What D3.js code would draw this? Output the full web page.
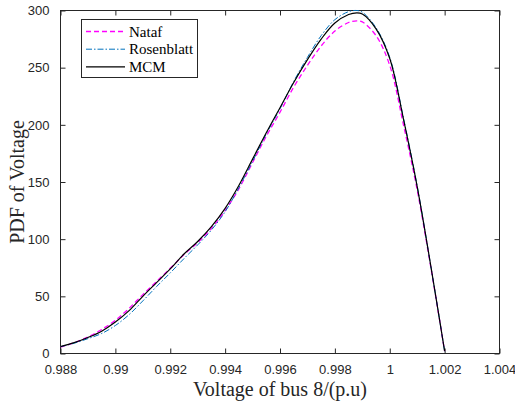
<!DOCTYPE html>
<html>
<head>
<meta charset="utf-8">
<script src="https://cdn.jsdelivr.net/npm/d3@7"></script>
<style>
  html, body { margin: 0; padding: 0; background: #fff; }
  svg { display: block; }
</style>
</head>
<body>
<svg id="chart" width="515" height="405"></svg>
<script>
// ---- data ----
const voltage = [0.9880, 0.9885, 0.9890, 0.9895, 0.9900, 0.9905, 0.9910, 0.9915, 0.9920, 0.9925,
                 0.9930, 0.9935, 0.9940, 0.9945, 0.9950, 0.9955, 0.9960, 0.9965, 0.9970, 0.9975,
                 0.9980, 0.9985, 0.9988, 0.9990, 0.9995, 1.0000, 1.0005, 1.0010, 1.0015, 1.0020];
const natafPdf = [5.5, 9.5, 14.5, 21, 29, 39.5, 51.5, 63, 74.5, 86.5,
                  97, 109.5, 125, 144, 167, 190, 211, 233, 252, 269,
                  282, 289.5, 291, 290, 278, 252, 200, 143, 75, 2];
const rosenblattPdf = [6, 9, 13, 17.5, 24.5, 34, 46, 58.5, 70.5, 83,
                       95, 108, 124, 145, 168, 192, 214, 238, 259, 278,
                       292, 299, 300, 298.5, 285, 259, 206, 146.5, 76, 2];
const mcmPdf = [6, 9.5, 14, 19.5, 27.5, 37.5, 50, 62, 74, 87,
                98, 111, 127, 147, 170, 193, 215, 237, 257, 275,
                289, 296.5, 298, 297, 284, 258, 205, 146, 76, 2];
const xTicks = [0.988, 0.990, 0.992, 0.994, 0.996, 0.998, 1.000, 1.002, 1.004];
const xTickLabels = ["0.988", "0.99", "0.992", "0.994", "0.996", "0.998", "1", "1.002", "1.004"];
const yTicks = [0, 50, 100, 150, 200, 250, 300];
const seriesNames = ["Nataf", "Rosenblatt", "MCM"];

// ---- layout ----
const svg = d3.select("#chart");
const L = 60.5, T = 10.5, R = 499.5, B = 353.5;
const axisColor = "#262626";

const x = d3.scaleLinear().domain([0.988, 1.004]).range([L, R]);
const y = d3.scaleLinear().domain([0, 300]).range([B, T]);

// axes
const tickFont = "'Liberation Sans', Arial, sans-serif";
const xAxis = d3.axisBottom(x).tickValues(xTicks)
  .tickFormat((d, i) => xTickLabels[i]).tickSizeInner(-5).tickSizeOuter(0).tickPadding(11);
const yAxis = d3.axisLeft(y).tickValues(yTicks)
  .tickFormat(d3.format("d")).tickSizeInner(-5).tickSizeOuter(0).tickPadding(11);
const xTop = d3.axisTop(x).tickValues(xTicks).tickFormat("").tickSizeInner(-5).tickSizeOuter(0);
const yRight = d3.axisRight(y).tickValues(yTicks).tickFormat("").tickSizeInner(-5).tickSizeOuter(0);

function styleAxis(g) {
  g.select(".domain").remove();
  g.selectAll("line").attr("stroke", axisColor).attr("stroke-width", 1);
  g.selectAll("text").attr("fill", axisColor)
    .style("font-family", tickFont).style("font-size", "13px");
}
svg.append("g").attr("transform", `translate(0,${B})`).call(xAxis).call(styleAxis);
svg.append("g").attr("transform", `translate(${L},0)`).call(yAxis).call(styleAxis);
svg.append("g").attr("transform", `translate(0,${T})`).call(xTop).call(styleAxis);
svg.append("g").attr("transform", `translate(${R},0)`).call(yRight).call(styleAxis);

svg.append("rect").attr("x", L).attr("y", T).attr("width", R - L).attr("height", B - T)
  .attr("fill", "none").attr("stroke", axisColor).attr("stroke-width", 1);

// lines
svg.append("defs").append("clipPath").attr("id", "clip")
  .append("rect").attr("x", L).attr("y", T - 2).attr("width", R - L).attr("height", B - T + 2);

const styles = [
  { data: natafPdf, color: "#ff00ff", dash: "5,3", width: 1.3 },
  { data: rosenblattPdf, color: "#0072bd", dash: "6,2,1.5,2", width: 1 },
  { data: mcmPdf, color: "#000000", dash: null, width: 1.2 }
];
const line = d3.line().curve(d3.curveCatmullRom.alpha(0.5));
const plot = svg.append("g").attr("clip-path", "url(#clip)");
styles.forEach(s => {
  plot.append("path")
    .attr("d", line(voltage.map((v, i) => [x(v), y(s.data[i])])))
    .attr("fill", "none").attr("stroke", s.color).attr("stroke-width", s.width)
    .attr("stroke-dasharray", s.dash);
});

// legend
const lg = svg.append("g");
lg.append("rect").attr("x", 81.5).attr("y", 19.5).attr("width", 116).attr("height", 58)
  .attr("fill", "#fff").attr("stroke", axisColor).attr("stroke-width", 1);
seriesNames.forEach((name, i) => {
  const yy = 31.5 + i * 17.7;
  const s = styles[i];
  lg.append("line").attr("x1", 86).attr("x2", 125).attr("y1", yy).attr("y2", yy)
    .attr("stroke", s.color).attr("stroke-width", s.width).attr("stroke-dasharray", s.dash);
  lg.append("text").attr("x", 129).attr("y", yy + 5).text(name)
    .style("font-family", "'Liberation Serif', 'Times New Roman', serif")
    .style("font-size", "15px").attr("fill", "#000");
});

// axis titles
svg.append("text").attr("x", (L + R) / 2).attr("y", 396).attr("text-anchor", "middle")
  .style("font-family", "'Liberation Serif', 'Times New Roman', serif").style("font-size", "20px")
  .attr("fill", axisColor).text("Voltage of bus 8/(p.u)");
svg.append("text").attr("transform", `translate(24,${(T + B) / 2}) rotate(-90)`)
  .attr("text-anchor", "middle")
  .style("font-family", "'Liberation Serif', 'Times New Roman', serif").style("font-size", "20px")
  .attr("fill", axisColor).text("PDF of Voltage");
</script>
</body>
</html>
